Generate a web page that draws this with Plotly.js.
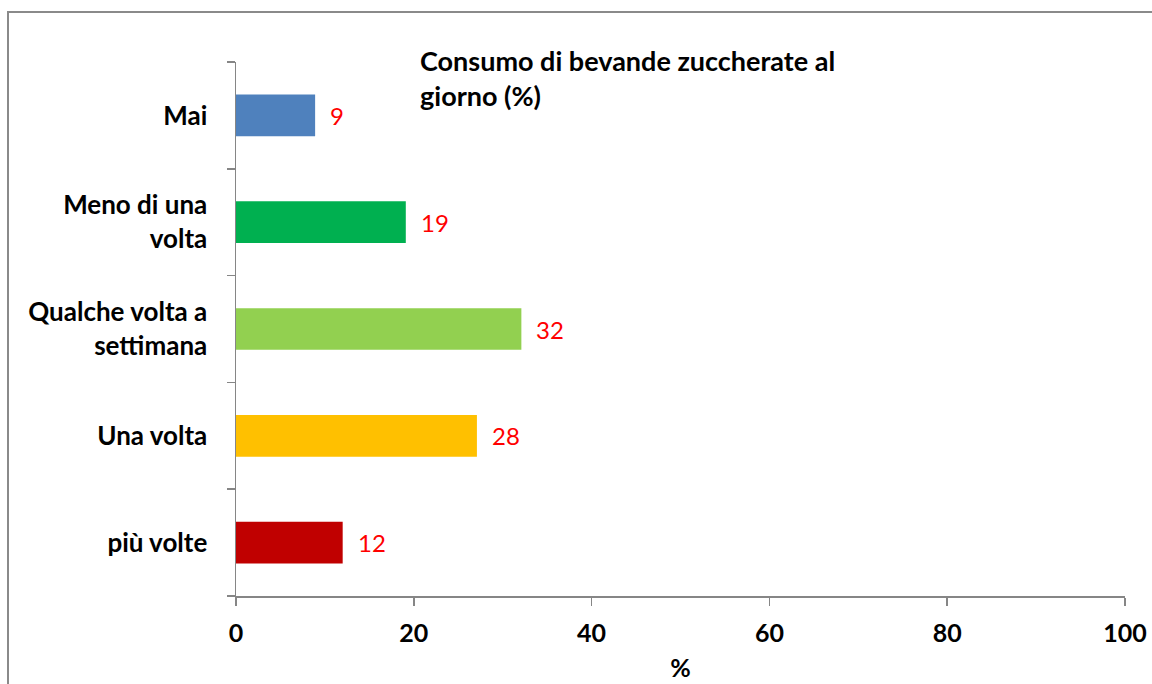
<!DOCTYPE html>
<html>
<head>
<meta charset="utf-8">
<script src="https://cdn.plot.ly/plotly-3.0.1.min.js"></script>
<style>
  html, body { margin: 0; padding: 0; background: #fff; }
  #wrap { position: relative; width: 1152px; height: 684px; overflow: hidden; }
  #chart { width: 1152px; height: 684px; }
  #frame { position: absolute; left: 7px; top: 11px; width: 2000px; height: 2000px;
           border: 2px solid #8a8a8a; pointer-events: none; box-sizing: border-box; }
</style>
</head>
<body>
<div id="wrap">
  <div id="chart"></div>
  <div id="frame"></div>
</div>
<script>
var categories = ["Mai", "Meno di una<br>volta", "Qualche volta a<br>settimana", "Una volta", "più volte"];
var values = [8.9, 19.1, 32.1, 27.1, 12.0];
var valueLabels = ["9", "19", "32", "28", "12"];
var barColors = ["#4F81BD", "#00B050", "#92D050", "#FFC000", "#C00000"];
var xTicks = [0, 20, 40, 60, 80, 100];
var chartTitle = "Consumo di bevande zuccherate al<br>giorno (%)";
var xTitle = "%";

var FONT = "Lato, 'Open Sans', sans-serif";

var trace = {
  type: "bar",
  orientation: "h",
  y: categories,
  x: values,
  marker: { color: barColors, line: { width: 0 } },
  width: 0.39,
  hoverinfo: "x+y"
};

var annotations = categories.map(function (c, i) {
  return {
    x: values[i], y: c, xref: "x", yref: "y",
    text: valueLabels[i], showarrow: false,
    xanchor: "left", yanchor: "middle", xshift: 13,
    font: { family: FONT, size: 24, color: "#FF0000" }
  };
});

var layout = {
  width: 1152, height: 684,
  margin: { l: 236, r: 27, t: 62, b: 88 },
  paper_bgcolor: "#ffffff",
  plot_bgcolor: "#ffffff",
  showlegend: false,
  font: { family: FONT, color: "#000" },
  title: {
    text: "<b>" + chartTitle + "</b>",
    xref: "paper", x: 0.207, xanchor: "left",
    yref: "container", y: 1 - 71 / 684, yanchor: "top",
    font: { family: FONT, size: 27, color: "#000" }
  },
  xaxis: {
    range: [0, 100],
    tickvals: xTicks,
    ticktext: xTicks.map(function (v) { return "<b>" + v + "</b>"; }),
    showgrid: false, zeroline: false,
    showline: true, linecolor: "#868686", linewidth: 1.5,
    ticks: "outside", ticklen: 8, tickcolor: "#868686", tickwidth: 1.5,
    ticklabelstandoff: 6,
    tickfont: { family: FONT, size: 25, color: "#000" },
    title: { text: "<b>" + xTitle + "</b>", font: { family: FONT, size: 25, color: "#000" }, standoff: 14 },
    fixedrange: true
  },
  yaxis: {
    type: "category",
    autorange: "reversed",
    tickvals: categories,
    ticktext: categories.map(function (c) { return "<b>" + c + "</b>"; }),
    tickson: "boundaries",
    showgrid: false, zeroline: false,
    showline: true, linecolor: "#868686", linewidth: 1.5,
    ticks: "outside", ticklen: 8, tickcolor: "#868686", tickwidth: 1.5,
    ticklabelstandoff: 22,
    tickfont: { family: FONT, size: 26, color: "#000" },
    fixedrange: true
  },
  annotations: annotations
};

Plotly.newPlot("chart", [trace], layout, { displayModeBar: false, staticPlot: true });
</script>
</body>
</html>
